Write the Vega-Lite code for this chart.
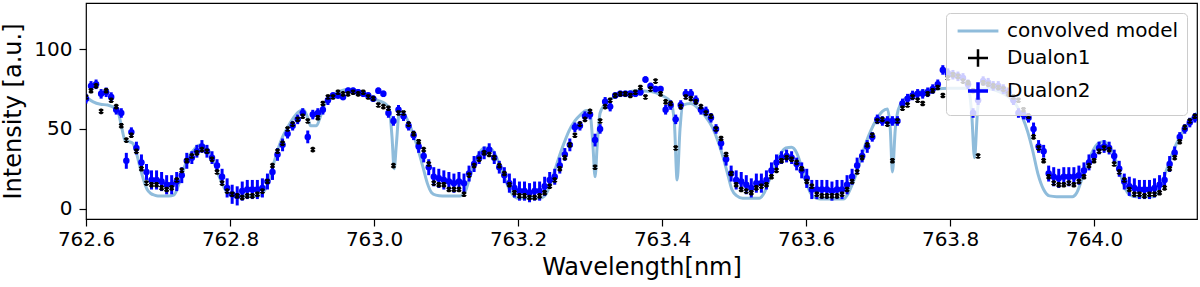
{
  "$schema": "https://vega.github.io/schema/vega-lite/v6.json",
  "width": 1111,
  "height": 216,
  "autosize": {"type": "none"},
  "padding": {"left": 86, "top": 3, "right": 3, "bottom": 68},
  "background": "white",
  "config": {
    "font": "DejaVu Sans",
    "view": {"stroke": "black", "strokeWidth": 1.2},
    "axis": {"grid": false, "domain": false, "labelColor": "black", "tickColor": "black", "titleColor": "black", "titleFontWeight": "normal", "labelFont": "DejaVu Sans", "titleFont": "DejaVu Sans", "labelFontSize": 20, "titleFontSize": 24, "tickSize": 7, "tickWidth": 1.2}
  },
  "datasets": {
    "model": [
      {"w":762.600,"v":70},{"w":762.610,"v":67},{"w":762.620,"v":65.5},{"w":762.630,"v":65},{"w":762.640,"v":63},{"w":762.645,"v":60},{"w":762.650,"v":50},{"w":762.654,"v":43},{"w":762.660,"v":42},{"w":762.665,"v":41},{"w":762.670,"v":35},{"w":762.675,"v":26},{"w":762.680,"v":18},{"w":762.685,"v":12},{"w":762.690,"v":9.5},{"w":762.695,"v":8.5},{"w":762.700,"v":8},{"w":762.715,"v":8},{"w":762.722,"v":8.5},{"w":762.728,"v":14},{"w":762.735,"v":24},{"w":762.742,"v":32},{"w":762.750,"v":37},{"w":762.758,"v":40},{"w":762.765,"v":39},{"w":762.772,"v":35},{"w":762.778,"v":29},{"w":762.785,"v":20},{"w":762.792,"v":13},{"w":762.798,"v":9},{"w":762.805,"v":8},{"w":762.840,"v":8},{"w":762.846,"v":10},{"w":762.852,"v":15},{"w":762.858,"v":24},{"w":762.865,"v":35},{"w":762.872,"v":44},{"w":762.880,"v":51},{"w":762.888,"v":57},{"w":762.896,"v":61},{"w":762.902,"v":62},{"w":762.908,"v":57},{"w":762.912,"v":52},{"w":762.920,"v":52},{"w":762.925,"v":57},{"w":762.930,"v":64},{"w":762.937,"v":69},{"w":762.945,"v":72},{"w":762.955,"v":74},{"w":762.965,"v":75},{"w":762.975,"v":74},{"w":762.985,"v":72.5},{"w":762.995,"v":70.5},{"w":763.005,"v":68},{"w":763.015,"v":66},{"w":763.021,"v":63},{"w":763.025,"v":45},{"w":763.028,"v":25},{"w":763.031,"v":40},{"w":763.035,"v":60},{"w":763.040,"v":60},{"w":763.048,"v":54},{"w":763.055,"v":46},{"w":763.062,"v":36},{"w":763.068,"v":26},{"w":763.074,"v":16},{"w":763.080,"v":10},{"w":763.086,"v":8.5},{"w":763.095,"v":8},{"w":763.120,"v":8},{"w":763.126,"v":10},{"w":763.132,"v":18},{"w":763.138,"v":27},{"w":763.145,"v":34},{"w":763.153,"v":38},{"w":763.160,"v":38},{"w":763.167,"v":35},{"w":763.174,"v":28},{"w":763.181,"v":20},{"w":763.187,"v":13},{"w":763.193,"v":8.5},{"w":763.200,"v":6.5},{"w":763.230,"v":6.5},{"w":763.237,"v":8},{"w":763.243,"v":13},{"w":763.249,"v":21},{"w":763.256,"v":31},{"w":763.263,"v":40},{"w":763.271,"v":49},{"w":763.279,"v":55},{"w":763.287,"v":59},{"w":763.295,"v":61.5},{"w":763.300,"v":60},{"w":763.304,"v":40},{"w":763.307,"v":20},{"w":763.310,"v":40},{"w":763.314,"v":60},{"w":763.320,"v":65},{"w":763.330,"v":69},{"w":763.345,"v":72},{"w":763.365,"v":74},{"w":763.385,"v":73.5},{"w":763.400,"v":71},{"w":763.412,"v":67},{"w":763.417,"v":55},{"w":763.421,"v":18},{"w":763.425,"v":50},{"w":763.429,"v":65},{"w":763.440,"v":66},{"w":763.450,"v":63},{"w":763.460,"v":58},{"w":763.470,"v":51},{"w":763.478,"v":42},{"w":763.485,"v":32},{"w":763.491,"v":22},{"w":763.497,"v":12},{"w":763.504,"v":8},{"w":763.512,"v":6.5},{"w":763.535,"v":6.5},{"w":763.542,"v":10},{"w":763.549,"v":18},{"w":763.556,"v":27},{"w":763.564,"v":34},{"w":763.572,"v":38},{"w":763.580,"v":38.5},{"w":763.587,"v":35},{"w":763.594,"v":26},{"w":763.600,"v":17},{"w":763.606,"v":10},{"w":763.612,"v":7},{"w":763.620,"v":6},{"w":763.652,"v":6},{"w":763.658,"v":9},{"w":763.664,"v":15},{"w":763.670,"v":22},{"w":763.676,"v":31},{"w":763.683,"v":41},{"w":763.690,"v":49},{"w":763.698,"v":56},{"w":763.706,"v":61},{"w":763.713,"v":62.5},{"w":763.717,"v":50},{"w":763.720,"v":23},{"w":763.724,"v":50},{"w":763.728,"v":62},{"w":763.735,"v":68},{"w":763.745,"v":71},{"w":763.760,"v":73.5},{"w":763.780,"v":75},{"w":763.800,"v":75.5},{"w":763.825,"v":75.5},{"w":763.830,"v":60},{"w":763.834,"v":32},{"w":763.838,"v":60},{"w":763.842,"v":75},{"w":763.855,"v":75},{"w":763.870,"v":73},{"w":763.882,"v":70},{"w":763.892,"v":65},{"w":763.900,"v":58},{"w":763.908,"v":48},{"w":763.915,"v":36},{"w":763.922,"v":22},{"w":763.930,"v":12},{"w":763.938,"v":8},{"w":763.948,"v":7.5},{"w":763.970,"v":7.5},{"w":763.976,"v":10},{"w":763.982,"v":17},{"w":763.990,"v":27},{"w":763.998,"v":36},{"w":764.006,"v":41},{"w":764.013,"v":42},{"w":764.020,"v":40},{"w":764.028,"v":33},{"w":764.035,"v":24},{"w":764.042,"v":14},{"w":764.050,"v":8.5},{"w":764.058,"v":7.5},{"w":764.082,"v":7.5},{"w":764.088,"v":10},{"w":764.094,"v":16},{"w":764.102,"v":26},{"w":764.110,"v":36},{"w":764.118,"v":44},{"w":764.127,"v":51},{"w":764.135,"v":56},{"w":764.145,"v":61}
    ],
    "d1": [
      {"w":762.600,"v":70},{"w":762.607,"v":74},{"w":762.614,"v":77},{"w":762.621,"v":61},{"w":762.628,"v":74},{"w":762.635,"v":68},{"w":762.642,"v":64},{"w":762.649,"v":52},{"w":762.656,"v":43},{"w":762.663,"v":46},
      {"w":762.670,"v":36},{"w":762.677,"v":25},{"w":762.684,"v":16},{"w":762.691,"v":15},{"w":762.698,"v":15},{"w":762.705,"v":13},{"w":762.712,"v":12},{"w":762.719,"v":13},{"w":762.726,"v":18},{"w":762.733,"v":24},
      {"w":762.740,"v":30},{"w":762.747,"v":33},{"w":762.754,"v":35},{"w":762.761,"v":37},{"w":762.768,"v":36},{"w":762.775,"v":31},{"w":762.782,"v":23},{"w":762.789,"v":16},{"w":762.796,"v":11},{"w":762.803,"v":9},
      {"w":762.810,"v":8},{"w":762.817,"v":7},{"w":762.824,"v":8},{"w":762.831,"v":8},{"w":762.838,"v":9},{"w":762.845,"v":11},{"w":762.852,"v":17},{"w":762.859,"v":27},{"w":762.866,"v":36},{"w":762.873,"v":41},
      {"w":762.880,"v":50},{"w":762.887,"v":53},{"w":762.894,"v":56},{"w":762.901,"v":58},{"w":762.908,"v":55},{"w":762.915,"v":37},{"w":762.922,"v":57},{"w":762.929,"v":66},{"w":762.936,"v":70},{"w":762.943,"v":70},
      {"w":762.950,"v":73},{"w":762.957,"v":72},{"w":762.964,"v":72},{"w":762.971,"v":73},{"w":762.978,"v":72},{"w":762.985,"v":73},{"w":762.992,"v":70},{"w":762.999,"v":69},{"w":763.006,"v":65},{"w":763.013,"v":64},
      {"w":763.020,"v":63},{"w":763.027,"v":27},{"w":763.034,"v":60},{"w":763.041,"v":60},{"w":763.048,"v":53},{"w":763.055,"v":47},{"w":763.062,"v":42},{"w":763.069,"v":37},{"w":763.076,"v":28},{"w":763.083,"v":16},
      {"w":763.090,"v":15},{"w":763.097,"v":15},{"w":763.104,"v":12},{"w":763.111,"v":12},{"w":763.118,"v":12},{"w":763.125,"v":9},{"w":763.132,"v":21},{"w":763.139,"v":27},{"w":763.146,"v":31},{"w":763.153,"v":35},
      {"w":763.160,"v":34},{"w":763.167,"v":32},{"w":763.174,"v":27},{"w":763.181,"v":22},{"w":763.188,"v":15},{"w":763.195,"v":10},{"w":763.202,"v":8},{"w":763.209,"v":8},{"w":763.216,"v":7},{"w":763.223,"v":7},
      {"w":763.230,"v":8},{"w":763.237,"v":10},{"w":763.244,"v":14},{"w":763.251,"v":18},{"w":763.258,"v":25},{"w":763.265,"v":32},{"w":763.272,"v":40},{"w":763.279,"v":46},{"w":763.286,"v":53},{"w":763.293,"v":56},
      {"w":763.300,"v":61},{"w":763.307,"v":26},{"w":763.314,"v":55},{"w":763.321,"v":64},{"w":763.328,"v":68},{"w":763.335,"v":71},{"w":763.342,"v":72},{"w":763.349,"v":72},{"w":763.356,"v":71},{"w":763.363,"v":73},
      {"w":763.370,"v":76},{"w":763.377,"v":70},{"w":763.384,"v":75},{"w":763.391,"v":80},{"w":763.398,"v":72},{"w":763.405,"v":67},{"w":763.412,"v":66},{"w":763.419,"v":38},{"w":763.426,"v":64},{"w":763.433,"v":70},
      {"w":763.440,"v":69},{"w":763.447,"v":67},{"w":763.454,"v":64},{"w":763.461,"v":60},{"w":763.468,"v":58},{"w":763.475,"v":50},{"w":763.482,"v":44},{"w":763.489,"v":34},{"w":763.496,"v":22},{"w":763.503,"v":15},
      {"w":763.510,"v":12},{"w":763.517,"v":11},{"w":763.524,"v":10},{"w":763.531,"v":13},{"w":763.538,"v":14},{"w":763.545,"v":15},{"w":763.552,"v":20},{"w":763.559,"v":24},{"w":763.566,"v":30},{"w":763.573,"v":32},
      {"w":763.580,"v":31},{"w":763.587,"v":29},{"w":763.594,"v":25},{"w":763.601,"v":17},{"w":763.608,"v":14},{"w":763.615,"v":9},{"w":763.622,"v":8},{"w":763.629,"v":8},{"w":763.636,"v":8},{"w":763.643,"v":8},
      {"w":763.650,"v":9},{"w":763.657,"v":12},{"w":763.664,"v":17},{"w":763.671,"v":23},{"w":763.678,"v":32},{"w":763.685,"v":40},{"w":763.692,"v":46},{"w":763.699,"v":55},{"w":763.706,"v":56},{"w":763.713,"v":53},
      {"w":763.720,"v":30},{"w":763.727,"v":55},{"w":763.734,"v":63},{"w":763.741,"v":65},{"w":763.748,"v":70},{"w":763.755,"v":68},{"w":763.762,"v":66},{"w":763.769,"v":72},{"w":763.776,"v":74},{"w":763.783,"v":76},
      {"w":763.790,"v":71},{"w":763.797,"v":82},{"w":763.804,"v":84},{"w":763.811,"v":83},{"w":763.818,"v":80},{"w":763.825,"v":79},{"w":763.832,"v":74},{"w":763.839,"v":33},{"w":763.846,"v":79},{"w":763.853,"v":78},
      {"w":763.860,"v":77},{"w":763.867,"v":76},{"w":763.874,"v":75},{"w":763.881,"v":72},{"w":763.888,"v":70},{"w":763.895,"v":68},{"w":763.902,"v":62},{"w":763.909,"v":58},{"w":763.916,"v":45},{"w":763.923,"v":38},
      {"w":763.930,"v":30},{"w":763.937,"v":20},{"w":763.944,"v":16},{"w":763.951,"v":15},{"w":763.958,"v":15},{"w":763.965,"v":16},{"w":763.972,"v":15},{"w":763.979,"v":17},{"w":763.986,"v":20},{"w":763.993,"v":27},
      {"w":764.000,"v":30},{"w":764.007,"v":36},{"w":764.014,"v":38},{"w":764.021,"v":37},{"w":764.028,"v":28},{"w":764.035,"v":23},{"w":764.042,"v":18},{"w":764.049,"v":12},{"w":764.056,"v":9},{"w":764.063,"v":9},
      {"w":764.070,"v":8},{"w":764.077,"v":9},{"w":764.084,"v":9},{"w":764.091,"v":10},{"w":764.098,"v":13},{"w":764.105,"v":25},{"w":764.112,"v":32},{"w":764.119,"v":42},{"w":764.126,"v":51},{"w":764.133,"v":55},
      {"w":764.140,"v":58}
    ],
    "d2": [
      {"w":762.600,"v":69,"e":3},{"w":762.607,"v":77,"e":3},{"w":762.614,"v":78,"e":3},{"w":762.621,"v":72,"e":3},{"w":762.628,"v":73,"e":3},{"w":762.635,"v":70,"e":3},{"w":762.642,"v":62,"e":3},{"w":762.649,"v":60,"e":3},{"w":762.656,"v":30,"e":5},{"w":762.663,"v":48,"e":3},
      {"w":762.670,"v":38,"e":4},{"w":762.677,"v":29,"e":5},{"w":762.684,"v":23,"e":5},{"w":762.691,"v":18,"e":6},{"w":762.698,"v":18,"e":6},{"w":762.705,"v":17,"e":6},{"w":762.712,"v":15,"e":6},{"w":762.719,"v":15,"e":6},{"w":762.726,"v":17,"e":6},{"w":762.733,"v":21,"e":5},
      {"w":762.740,"v":30,"e":5},{"w":762.747,"v":32,"e":4},{"w":762.754,"v":36,"e":4},{"w":762.761,"v":39,"e":4},{"w":762.768,"v":36,"e":4},{"w":762.775,"v":32,"e":4},{"w":762.782,"v":27,"e":4},{"w":762.789,"v":20,"e":5},{"w":762.796,"v":13,"e":6},{"w":762.803,"v":9,"e":6},
      {"w":762.810,"v":8,"e":6},{"w":762.817,"v":11,"e":6},{"w":762.824,"v":12,"e":6},{"w":762.831,"v":12,"e":6},{"w":762.838,"v":12,"e":6},{"w":762.845,"v":13,"e":6},{"w":762.852,"v":17,"e":5},{"w":762.859,"v":23,"e":5},{"w":762.866,"v":34,"e":4},{"w":762.873,"v":40,"e":4},
      {"w":762.880,"v":47,"e":3},{"w":762.887,"v":52,"e":3},{"w":762.894,"v":56,"e":3},{"w":762.901,"v":60,"e":3},{"w":762.908,"v":45,"e":4},{"w":762.915,"v":59,"e":3},{"w":762.922,"v":60,"e":3},{"w":762.929,"v":62,"e":3},{"w":762.936,"v":68,"e":3},{"w":762.943,"v":71,"e":2},
      {"w":762.950,"v":71,"e":2},{"w":762.957,"v":70,"e":2},{"w":762.964,"v":74,"e":2},{"w":762.971,"v":74,"e":2},{"w":762.978,"v":73,"e":2},{"w":762.985,"v":72,"e":2},{"w":762.992,"v":71,"e":2},{"w":762.999,"v":69,"e":2},{"w":763.006,"v":74,"e":2},{"w":763.013,"v":72,"e":2},
      {"w":763.020,"v":60,"e":3},{"w":763.027,"v":55,"e":3},{"w":763.034,"v":62,"e":3},{"w":763.041,"v":58,"e":3},{"w":763.048,"v":52,"e":3},{"w":763.055,"v":46,"e":3},{"w":763.062,"v":39,"e":4},{"w":763.069,"v":33,"e":4},{"w":763.076,"v":26,"e":5},{"w":763.083,"v":20,"e":6},
      {"w":763.090,"v":19,"e":6},{"w":763.097,"v":18,"e":6},{"w":763.104,"v":17,"e":6},{"w":763.111,"v":16,"e":6},{"w":763.118,"v":17,"e":6},{"w":763.125,"v":16,"e":6},{"w":763.132,"v":22,"e":5},{"w":763.139,"v":28,"e":5},{"w":763.146,"v":32,"e":4},{"w":763.153,"v":35,"e":4},
      {"w":763.160,"v":37,"e":4},{"w":763.167,"v":32,"e":4},{"w":763.174,"v":26,"e":4},{"w":763.181,"v":21,"e":5},{"w":763.188,"v":16,"e":6},{"w":763.195,"v":13,"e":6},{"w":763.202,"v":11,"e":6},{"w":763.209,"v":11,"e":6},{"w":763.216,"v":10,"e":6},{"w":763.223,"v":11,"e":6},
      {"w":763.230,"v":11,"e":6},{"w":763.237,"v":14,"e":6},{"w":763.244,"v":18,"e":5},{"w":763.251,"v":20,"e":5},{"w":763.258,"v":27,"e":5},{"w":763.265,"v":34,"e":4},{"w":763.272,"v":40,"e":4},{"w":763.279,"v":51,"e":3},{"w":763.286,"v":52,"e":3},{"w":763.293,"v":58,"e":3},
      {"w":763.300,"v":59,"e":3},{"w":763.307,"v":43,"e":4},{"w":763.314,"v":50,"e":3},{"w":763.321,"v":67,"e":3},{"w":763.328,"v":64,"e":3},{"w":763.335,"v":71,"e":2},{"w":763.342,"v":72,"e":2},{"w":763.349,"v":72,"e":2},{"w":763.356,"v":72,"e":2},{"w":763.363,"v":72,"e":2},
      {"w":763.370,"v":73,"e":2},{"w":763.377,"v":81,"e":2},{"w":763.384,"v":77,"e":2},{"w":763.391,"v":75,"e":2},{"w":763.398,"v":75,"e":2},{"w":763.405,"v":62,"e":3},{"w":763.412,"v":65,"e":3},{"w":763.419,"v":56,"e":3},{"w":763.426,"v":65,"e":3},{"w":763.433,"v":72,"e":3},
      {"w":763.440,"v":72,"e":3},{"w":763.447,"v":68,"e":3},{"w":763.454,"v":62,"e":3},{"w":763.461,"v":61,"e":3},{"w":763.468,"v":57,"e":3},{"w":763.475,"v":50,"e":3},{"w":763.482,"v":41,"e":4},{"w":763.489,"v":31,"e":4},{"w":763.496,"v":22,"e":5},{"w":763.503,"v":18,"e":6},
      {"w":763.510,"v":17,"e":6},{"w":763.517,"v":15,"e":6},{"w":763.524,"v":13,"e":6},{"w":763.531,"v":16,"e":6},{"w":763.538,"v":16,"e":6},{"w":763.545,"v":18,"e":6},{"w":763.552,"v":24,"e":5},{"w":763.559,"v":29,"e":5},{"w":763.566,"v":32,"e":4},{"w":763.573,"v":33,"e":4},
      {"w":763.580,"v":32,"e":4},{"w":763.587,"v":28,"e":4},{"w":763.594,"v":24,"e":5},{"w":763.601,"v":19,"e":6},{"w":763.608,"v":12,"e":6},{"w":763.615,"v":12,"e":6},{"w":763.622,"v":12,"e":6},{"w":763.629,"v":12,"e":6},{"w":763.636,"v":11,"e":6},{"w":763.643,"v":12,"e":6},
      {"w":763.650,"v":12,"e":6},{"w":763.657,"v":15,"e":6},{"w":763.664,"v":20,"e":5},{"w":763.671,"v":27,"e":5},{"w":763.678,"v":33,"e":4},{"w":763.685,"v":39,"e":4},{"w":763.692,"v":45,"e":3},{"w":763.699,"v":56,"e":3},{"w":763.706,"v":55,"e":3},{"w":763.713,"v":55,"e":3},
      {"w":763.720,"v":55,"e":3},{"w":763.727,"v":55,"e":3},{"w":763.734,"v":66,"e":3},{"w":763.741,"v":69,"e":3},{"w":763.748,"v":71,"e":3},{"w":763.755,"v":72,"e":3},{"w":763.762,"v":72,"e":3},{"w":763.769,"v":73,"e":3},{"w":763.776,"v":75,"e":3},{"w":763.783,"v":78,"e":3},
      {"w":763.790,"v":87,"e":3},{"w":763.797,"v":85,"e":3},{"w":763.804,"v":84,"e":3},{"w":763.811,"v":83,"e":3},{"w":763.818,"v":82,"e":3},{"w":763.825,"v":78,"e":3},{"w":763.832,"v":60,"e":3},{"w":763.839,"v":68,"e":3},{"w":763.846,"v":80,"e":3},{"w":763.853,"v":79,"e":3},
      {"w":763.860,"v":77,"e":3},{"w":763.867,"v":77,"e":3},{"w":763.874,"v":75,"e":3},{"w":763.881,"v":73,"e":3},{"w":763.888,"v":68,"e":3},{"w":763.895,"v":60,"e":3},{"w":763.902,"v":59,"e":3},{"w":763.909,"v":57,"e":3},{"w":763.916,"v":50,"e":4},{"w":763.923,"v":39,"e":4},
      {"w":763.930,"v":36,"e":4},{"w":763.937,"v":22,"e":5},{"w":763.944,"v":20,"e":6},{"w":763.951,"v":19,"e":6},{"w":763.958,"v":20,"e":6},{"w":763.965,"v":20,"e":6},{"w":763.972,"v":20,"e":6},{"w":763.979,"v":21,"e":6},{"w":763.986,"v":24,"e":5},{"w":763.993,"v":29,"e":5},
      {"w":764.000,"v":33,"e":4},{"w":764.007,"v":38,"e":4},{"w":764.014,"v":39,"e":4},{"w":764.021,"v":38,"e":4},{"w":764.028,"v":33,"e":4},{"w":764.035,"v":25,"e":5},{"w":764.042,"v":17,"e":5},{"w":764.049,"v":14,"e":6},{"w":764.056,"v":13,"e":6},{"w":764.063,"v":12,"e":6},
      {"w":764.070,"v":12,"e":6},{"w":764.077,"v":12,"e":6},{"w":764.084,"v":13,"e":6},{"w":764.091,"v":15,"e":6},{"w":764.098,"v":18,"e":5},{"w":764.105,"v":28,"e":5},{"w":764.112,"v":35,"e":4},{"w":764.119,"v":45,"e":3},{"w":764.126,"v":50,"e":3},{"w":764.133,"v":54,"e":3},
      {"w":764.140,"v":57,"e":3}
    ]
  },
  "encoding": {
    "x": {"field": "w", "type": "quantitative", "title": "Wavelength[nm]",
      "scale": {"domain": [762.6, 764.143], "nice": false, "zero": false},
      "axis": {"values": [762.6, 762.8, 763.0, 763.2, 763.4, 763.6, 763.8, 764.0], "format": ".1f", "labelPadding": 3, "titlePadding": 6, "labelFlush": false}},
    "y": {"field": "v", "type": "quantitative", "title": "Intensity [a.u.]",
      "scale": {"domain": [-6.5, 129], "nice": false, "zero": false},
      "axis": {"values": [0, 50, 100], "labelPadding": 7, "titlePadding": 8}}
  },
  "layer": [
    {
      "data": {"name": "model"},
      "mark": {"type": "line", "strokeWidth": 3, "interpolate": "monotone", "clip": true},
      "encoding": {
        "color": {"datum": "convolved model", "type": "nominal",
          "scale": {"domain": ["convolved model", "Dualon1", "Dualon2"], "range": ["#8fbcdb", "#000000", "#0000ff"]},
          "legend": {"title": null, "orient": "top-right", "offset": 10, "padding": 8, "fillColor": "rgba(255,255,255,0.8)", "strokeColor": "#cccccc", "cornerRadius": 4, "labelFontSize": 20, "labelFont": "DejaVu Sans", "labelColor": "black", "labelLimit": 400, "rowPadding": 3, "symbolSize": 256, "symbolOffset": 14, "labelOffset": 19,
            "encode": {"symbols": {"update": {
              "shape": {"signal": "datum.value === 'convolved model' ? 'M-2.55,0H2.55' : 'M-1.25,0H1.25M0,-1.1V1.1'"},
              "strokeWidth": {"signal": "datum.value === 'convolved model' ? 3 : (datum.value === 'Dualon2' ? 3.5 : 2.5)"},
              "fill": {"value": "transparent"},
              "fillOpacity": {"value": 0},
              "stroke": {"signal": "datum.value === 'convolved model' ? '#8fbcdb' : (datum.value === 'Dualon1' ? '#000000' : '#0000ff')"},
              "opacity": {"value": 1}
            }}}}
        }
      }
    },
    {
      "data": {"name": "d2"},
      "mark": {"type": "errorbar", "thickness": 3, "clip": true},
      "encoding": {"yError": {"field": "e"}, "color": {"datum": "Dualon2", "type": "nominal"}}
    },
    {
      "data": {"name": "d2"},
      "mark": {"type": "point", "filled": true, "size": 42, "opacity": 1, "clip": true},
      "encoding": {"color": {"datum": "Dualon2", "type": "nominal"}}
    },
    {
      "data": {"name": "d1"},
      "mark": {"type": "point", "filled": false, "shape": "M-1,-1L1,1M-1,1L1,-1M0,-1.4V1.4", "size": 16, "strokeWidth": 2, "opacity": 1, "clip": true},
      "encoding": {"color": {"datum": "Dualon1", "type": "nominal"}}
    }
  ]
}
